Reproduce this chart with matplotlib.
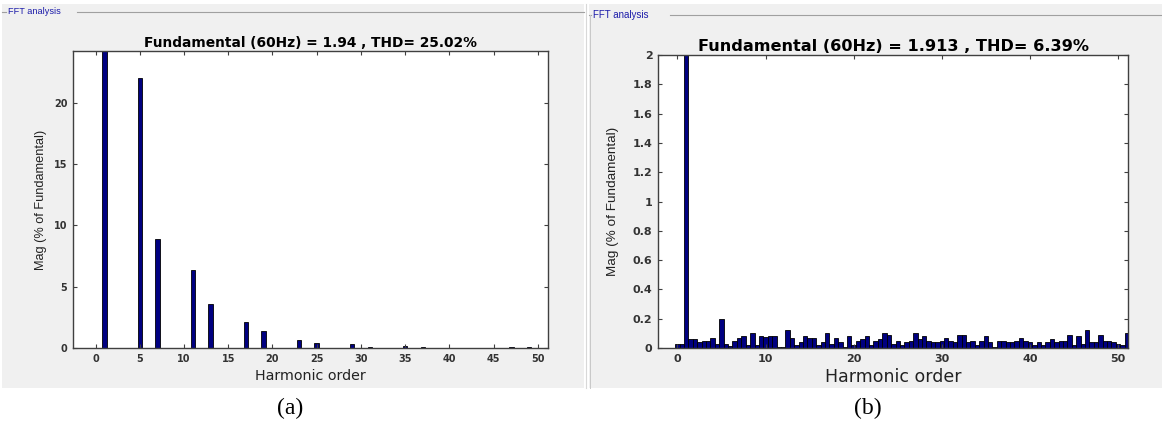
import matplotlib
matplotlib.use("Agg")
import matplotlib.pyplot as plt
from matplotlib.patches import Rectangle
from matplotlib.lines import Line2D
import numpy as np

W, H = 1162, 426

# ---------------- data ----------------
# Panel (a): integer harmonic orders and magnitudes (% of fundamental)
harm_a = [0, 1, 2, 3, 4, 5, 6, 7, 8, 9, 10, 11, 12, 13, 14, 15, 16, 17, 18, 19, 20,
          21, 22, 23, 24, 25, 26, 27, 28, 29, 30, 31, 32, 33, 34, 35, 36, 37, 38, 39, 40,
          41, 42, 43, 44, 45, 46, 47, 48, 49, 50]
mag_a = [0.0, 100.0, 0.0, 0.02, 0.0, 22.0, 0.0, 8.9, 0.0, 0.02, 0.0, 6.35, 0.0, 3.55, 0.0, 0.02,
         0.0, 2.15, 0.0, 1.4, 0.0, 0.02, 0.0, 0.65, 0.0, 0.4, 0.0, 0.02, 0.0, 0.3, 0.0, 0.12,
         0.0, 0.02, 0.0, 0.18, 0.0, 0.08, 0.0, 0.02, 0.0, 0.02, 0.0, 0.02, 0.0, 0.02, 0.0, 0.05,
         0.0, 0.06, 0.0]

# Panel (b): half-harmonic resolution 0, 0.5, ..., 51
mag_b = [0.027, 0.027, 100.0, 0.06, 0.06, 0.04, 0.045, 0.045, 0.07, 0.025,
         0.2, 0.025, 0.015, 0.05, 0.07, 0.08, 0.02, 0.1, 0.02, 0.08,
         0.075, 0.085, 0.085, 0.01, 0.01, 0.12, 0.065, 0.02, 0.04, 0.08,
         0.07, 0.07, 0.02, 0.04, 0.1, 0.03, 0.07, 0.04, 0.01, 0.08,
         0.02, 0.05, 0.06, 0.08, 0.02, 0.05,
         0.06, 0.1, 0.09, 0.025, 0.05, 0.02, 0.04, 0.05, 0.1, 0.06,
         0.08, 0.05, 0.04, 0.04, 0.05, 0.07, 0.05, 0.04, 0.09, 0.09,
         0.04, 0.05, 0.02, 0.05, 0.08, 0.04, 0.01, 0.05, 0.05, 0.04,
         0.04, 0.05, 0.07, 0.05, 0.04, 0.02, 0.04, 0.02, 0.04, 0.06,
         0.04, 0.05, 0.05, 0.09, 0.02, 0.08, 0.03, 0.12, 0.04, 0.04,
         0.09, 0.05, 0.05, 0.04, 0.03, 0.02, 0.1]
harm_b = [0.5 * i for i in range(len(mag_b))]

title_a = "Fundamental (60Hz) = 1.94 , THD= 25.02%"
title_b = "Fundamental (60Hz) = 1.913 , THD= 6.39%"
xticks_a = [0, 5, 10, 15, 20, 25, 30, 35, 40, 45, 50]
yticks_a = [0, 5, 10, 15, 20]
xticks_b = [0, 10, 20, 30, 40, 50]
yticks_b = [0, 0.2, 0.4, 0.6, 0.8, 1.0, 1.2, 1.4, 1.6, 1.8, 2.0]
ytick_labels_b = ["0", "0.2", "0.4", "0.6", "0.8", "1", "1.2", "1.4", "1.6", "1.8", "2"]

# ---------------- figure ----------------
fig = plt.figure(figsize=(W / 100, H / 100), dpi=100)
fig.patch.set_facecolor("white")

def px_rect(x0, y0, x1, y1, **kw):
    fig.add_artist(Rectangle((x0 / W, 1 - y1 / H), (x1 - x0) / W, (y1 - y0) / H,
                             transform=fig.transFigure, **kw))

def px_line(xs, ys, **kw):
    fig.add_artist(Line2D([x / W for x in xs], [1 - y / H for y in ys],
                          transform=fig.transFigure, **kw))

GRAY = "#f0f0f0"
px_rect(2, 4, 584, 388, facecolor=GRAY, edgecolor="none", zorder=0)
px_rect(589, 4, 1162, 388, facecolor=GRAY, edgecolor="none", zorder=0)
px_line([586, 586], [4, 388], color="#d8d8d8", lw=0.8)

# group box lines and labels
px_line([2, 6], [12, 12], color="#a0a0a0", lw=0.8)
px_line([77, 584], [12, 12], color="#a0a0a0", lw=0.8)
fig.text(8 / W, 1 - 12 / H, "FFT analysis", color="#1c1caa", fontsize=6.6,
         family="Liberation Sans", va="center", ha="left")
px_line([589, 591], [15, 15], color="#a0a0a0", lw=0.8)
px_line([590, 590], [15, 388], color="#c8c8c8", lw=0.7)
px_line([670, 1162], [15, 15], color="#a0a0a0", lw=0.8)
fig.text(593 / W, 1 - 15 / H, "FFT analysis", color="#1c1caa", fontsize=7.0,
         family="Liberation Sans", va="center", ha="left")

def make_axes(l, t, r, b):
    return fig.add_axes([l / W, 1 - b / H, (r - l) / W, (b - t) / H])

BAR = "#000080"
TICKC = "#333333"

def style(ax, size):
    ax.set_facecolor("white")
    for s in ax.spines.values():
        s.set_color("#404040")
        s.set_linewidth(1.0)
    ax.tick_params(direction="in", length=3, width=0.8, colors="#404040",
                   labelcolor=TICKC, labelsize=size, top=True, right=True, pad=4)
    for lab in ax.get_xticklabels() + ax.get_yticklabels():
        lab.set_family("DejaVu Sans")
        lab.set_fontweight("bold")

# Panel (a)
ax1 = make_axes(73, 51, 548, 348)
ax1.bar(harm_a, mag_a, width=0.5, color=BAR, edgecolor="black", linewidth=0.6)
ax1.set_xlim(-2.55, 51.15)
ax1.set_ylim(0, 24.2)
ax1.set_xticks(xticks_a)
ax1.set_yticks(yticks_a)
style(ax1, 7.0)
ax1.set_title(title_a, fontsize=9.9, fontweight="bold", family="DejaVu Sans", pad=3)
ax1.set_xlabel("Harmonic order", fontsize=10.3, family="DejaVu Sans", color="#222222", labelpad=4)
ax1.set_ylabel("Mag (% of Fundamental)", fontsize=9.2, family="Liberation Sans",
               color="#222222", labelpad=5)

# Panel (b)
ax2 = make_axes(658, 55, 1128, 348)
ax2.bar(harm_b, mag_b, width=0.5, color=BAR, edgecolor="black", linewidth=0.6)
ax2.set_xlim(-2.2, 51.13)
ax2.set_ylim(0, 2)
ax2.set_xticks(xticks_b)
ax2.set_yticks(yticks_b)
ax2.set_yticklabels(ytick_labels_b)
style(ax2, 8.0)
ax2.set_title(title_b, fontsize=11.6, fontweight="bold", family="DejaVu Sans", pad=3)
ax2.set_xlabel("Harmonic order", fontsize=12.5, family="DejaVu Sans", color="#222222", labelpad=3)
ax2.set_ylabel("Mag (% of Fundamental)", fontsize=9.7, family="Liberation Sans",
               color="#222222", labelpad=10)

# captions
fig.text(290 / W, 1 - 408 / H, "(a)", fontsize=17, family="Liberation Serif",
         ha="center", va="center")
fig.text(868 / W, 1 - 408 / H, "(b)", fontsize=17, family="Liberation Serif",
         ha="center", va="center")

fig.savefig("out.png", dpi=100)
